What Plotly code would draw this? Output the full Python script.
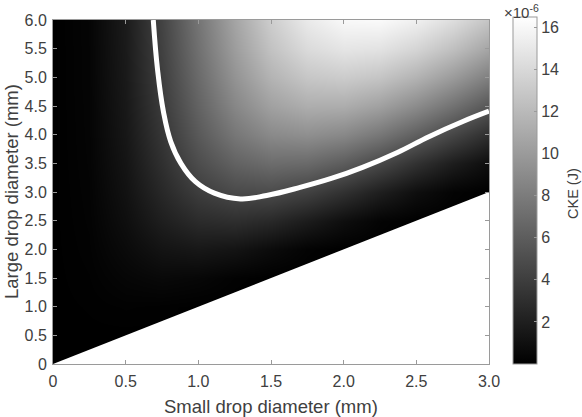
import plotly.graph_objects as go

# ---------------- data ----------------
small_d = [0, 0.25, 0.5, 0.75, 1.0, 1.25, 1.5, 1.75, 2.0, 2.25, 2.5, 2.75, 3.0]   # mm
large_D = [0, 0.5, 1.0, 1.5, 2.0, 2.5, 3.0, 3.5, 4.0, 4.5, 5.0, 5.5, 6.0]          # mm

# CKE in units of 1e-6 J (rows = large_D, columns = small_d)
cke_row_0_0 = [0, 0, 0, 0, 0, 0, 0, 0, 0, 0, 0, 0, 0]
cke_row_0_5 = [0, 0.01, 0, 0, 0, 0, 0, 0, 0, 0, 0, 0, 0]
cke_row_1_0 = [0, 0.04, 0.11, 0.06, 0, 0, 0, 0, 0, 0, 0, 0, 0]
cke_row_1_5 = [0, 0.09, 0.37, 0.56, 0.43, 0.15, 0, 0, 0, 0, 0, 0, 0]
cke_row_2_0 = [0, 0.14, 0.66, 1.26, 1.51, 1.28, 0.73, 0.21, 0, 0, 0, 0, 0]
cke_row_2_5 = [0, 0.18, 0.92, 1.96, 2.77, 3.00, 2.60, 1.78, 0.90, 0.24, 0, 0, 0]
cke_row_3_0 = [0, 0.21, 1.14, 2.57, 3.94, 4.77, 4.85, 4.23, 3.16, 1.96, 0.92, 0.23, 0]
cke_row_3_5 = [0, 0.24, 1.32, 3.08, 4.94, 6.35, 7.02, 6.85, 5.98, 4.68, 3.22, 1.88, 0.85]
cke_row_4_0 = [0, 0.26, 1.47, 3.48, 5.74, 7.67, 8.89, 9.23, 8.75, 7.63, 6.12, 4.48, 2.94]
cke_row_4_5 = [0, 0.27, 1.57, 3.80, 6.37, 8.72, 10.41, 11.24, 11.18, 10.37, 9.01, 7.33, 5.57]
cke_row_5_0 = [0, 0.29, 1.66, 4.04, 6.86, 9.54, 11.62, 12.85, 13.19, 12.72, 11.59, 10.02, 8.23]
cke_row_5_5 = [0, 0.29, 1.72, 4.22, 7.23, 10.17, 12.56, 14.13, 14.81, 14.64, 13.75, 12.36, 10.64]
cke_row_6_0 = [0, 0.30, 1.77, 4.36, 7.52, 10.65, 13.28, 15.11, 16.07, 16.17, 15.52, 14.30, 12.70]

cke = [cke_row_0_0, cke_row_0_5, cke_row_1_0, cke_row_1_5, cke_row_2_0, cke_row_2_5,
       cke_row_3_0, cke_row_3_5, cke_row_4_0, cke_row_4_5, cke_row_5_0, cke_row_5_5,
       cke_row_6_0]

# white boundary curve
curve_d = [0.69, 0.72, 0.76, 0.81, 0.88, 0.98, 1.11, 1.29, 1.47, 1.70, 1.92, 2.13, 2.37, 2.59, 2.82, 3.0]
curve_D = [6.0, 5.12, 4.40, 3.88, 3.50, 3.18, 2.98, 2.88, 2.94, 3.08, 3.24, 3.43, 3.69, 3.97, 4.23, 4.41]

x_ticks = [0, 0.5, 1.0, 1.5, 2.0, 2.5, 3.0]
x_ticktext = ["0", "0.5", "1.0", "1.5", "2.0", "2.5", "3.0"]
y_ticks = [0, 0.5, 1.0, 1.5, 2.0, 2.5, 3.0, 3.5, 4.0, 4.5, 5.0, 5.5, 6.0]
y_ticktext = ["0", "0.5", "1.0", "1.5", "2.0", "2.5", "3.0", "3.5", "4.0", "4.5", "5.0", "5.5", "6.0"]
cb_ticks = [2, 4, 6, 8, 10, 12, 14, 16]

# ---------------- figure ----------------
FONT = "Liberation Sans, Arial, sans-serif"
TXT = "#404040"
AX = "#9a9a9a"

W, H = 582, 417
L, R, T, B = 53, 93, 16, 53
pw = W - L - R
ph = H - T - B

fig = go.Figure()

fig.add_trace(go.Heatmap(
    x=small_d, y=large_D, z=cke,
    zsmooth="best",
    colorscale=[[0, "black"], [1, "white"]],
    zmin=0, zmax=16.5,
    colorbar=dict(
        x=(513 - L) / pw, xanchor="left",
        y=0, yanchor="bottom",
        lenmode="pixels", len=347,
        thickness=24, thicknessmode="pixels",
        xpad=0, ypad=0,
        outlinewidth=1, outlinecolor=AX,
        tickvals=cb_ticks, ticks="inside", ticklen=3, tickcolor=AX,
        tickfont=dict(family=FONT, size=16, color=TXT),
    ),
    hoverinfo="skip",
))

# region where large drop < small drop (blank)
fig.add_trace(go.Scatter(
    x=[small_d[0], small_d[-1], small_d[-1], small_d[0]],
    y=[small_d[0], small_d[-1], 0, small_d[0]],
    mode="lines", fill="toself", fillcolor="white",
    line=dict(width=0, color="white"),
    showlegend=False, hoverinfo="skip",
))

fig.add_trace(go.Scatter(
    x=curve_d, y=curve_D, mode="lines",
    line=dict(color="white", width=5, shape="spline", smoothing=1.2),
    showlegend=False, hoverinfo="skip",
))

fig.update_layout(
    width=W, height=H,
    margin=dict(l=L, r=R, t=T, b=B),
    paper_bgcolor="white", plot_bgcolor="white",
    font=dict(family=FONT, color=TXT),
    showlegend=False,
    xaxis=dict(
        range=[0, 3], tickvals=x_ticks, ticktext=x_ticktext,
        showline=True, linecolor=AX, linewidth=1, mirror="ticks",
        ticks="inside", ticklen=4, tickcolor=AX, ticklabelstandoff=3,
        showgrid=False, zeroline=False,
        tickfont=dict(family=FONT, size=16, color=TXT),
    ),
    yaxis=dict(
        range=[0, 6], tickvals=y_ticks, ticktext=y_ticktext,
        showline=True, linecolor=AX, linewidth=1, mirror="ticks",
        ticks="inside", ticklen=4, tickcolor=AX, ticklabelstandoff=2,
        showgrid=False, zeroline=False,
        tickfont=dict(family=FONT, size=16, color=TXT),
    ),
    annotations=[
        dict(text="Small drop diameter (mm)", xref="paper", yref="paper",
             x=0.5, y=-(407 - (T + ph)) / ph,
             xanchor="center", yanchor="middle", showarrow=False,
             font=dict(family=FONT, size=18.5, color=TXT)),
        dict(text="Large drop diameter (mm)", xref="paper", yref="paper",
             x=-(L - 11) / pw, y=0.5, textangle=-90,
             xanchor="center", yanchor="middle", showarrow=False,
             font=dict(family=FONT, size=18.5, color=TXT)),
        dict(text="CKE (J)", xref="paper", yref="paper",
             x=(573 - L) / pw, y=(T + ph - 192) / ph, textangle=-90,
             xanchor="center", yanchor="middle", showarrow=False,
             font=dict(family=FONT, size=14.5, color=TXT)),
        dict(text="×10<sup>-6</sup>", xref="paper", yref="paper",
             x=(521 - L) / pw, y=(T + ph - 7) / ph,
             xanchor="center", yanchor="middle", showarrow=False,
             font=dict(family=FONT, size=15, color=TXT)),
    ],
)

fig.write_html("out.html")
